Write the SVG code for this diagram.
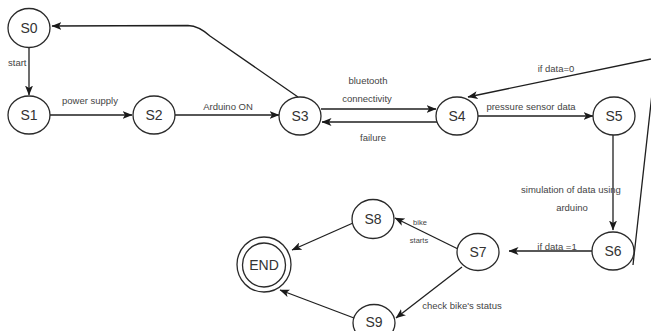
<svg xmlns="http://www.w3.org/2000/svg" width="651" height="331" viewBox="0 0 651 331">
<defs>
<marker id="arr" viewBox="0 0 10 8" refX="9.5" refY="4" markerWidth="10" markerHeight="8" markerUnits="userSpaceOnUse" orient="auto">
<path d="M0,0 L10,4 L0,8 L2.5,4 z" fill="#1a1a1a"/>
</marker>
</defs>
<style>
.node ellipse{fill:#fff;stroke:#2a2a2a;stroke-width:1.3}
.node text{font-family:"Liberation Sans",Arial,sans-serif;font-size:14px;fill:#333;text-anchor:middle}
.edge{fill:none;stroke:#1f1f1f;stroke-width:1.3;marker-end:url(#arr)}
.lbl{font-family:"Liberation Sans",Arial,sans-serif;font-size:9.5px;fill:#444;text-anchor:middle}
.sm{font-size:7.5px}
</style>
<rect width="651" height="331" fill="#fff"/>
<g id="connectors">
<path class="edge" d="M29,48 L29,95"/>
<path class="edge" d="M50,115 L132,115"/>
<path class="edge" d="M175,115 L279,115"/>
<path class="edge" d="M298,97 L210,36 Q199,26 188,25.5 L52,26"/>
<path class="edge" d="M321,109 L436,109"/>
<path class="edge" d="M437,122 L322,122"/>
<path class="edge" d="M478,116 L593,116"/>
<path class="edge" d="M613,135 L613,230"/>
<path class="edge" d="M633,265 L656,58 L468,97"/>
<path class="edge" d="M592,251 L509,251"/>
<path class="edge" d="M458,249 L395,218"/>
<path class="edge" d="M462,267 L396,318"/>
<path class="edge" d="M353,223 L292,250"/>
<path class="edge" d="M354,318 L280,290"/>
<text class="lbl" x="8" y="65.5" style="text-anchor:start">start</text>
<text class="lbl" x="90" y="104">power supply</text>
<text class="lbl" x="228" y="110">Arduino ON</text>
<text class="lbl" x="368" y="84">bluetooth</text>
<text class="lbl" x="367" y="102">connectivity</text>
<text class="lbl" x="373" y="141">failure</text>
<text class="lbl" x="531" y="110">pressure sensor data</text>
<text class="lbl" x="556" y="72">if data=0</text>
<text class="lbl" x="571" y="193">simulation of data using</text>
<text class="lbl" x="572" y="211">arduino</text>
<text class="lbl" x="557" y="250">if data =1</text>
<text class="lbl sm" x="420" y="225">bike</text>
<text class="lbl sm" x="419" y="243">starts</text>
<text class="lbl" x="462" y="309">check bike's status</text>
</g>
<g id="S0" class="node"><ellipse cx="29" cy="28" rx="21" ry="19.5"/><text x="29" y="33">S0</text></g>
<g id="S1" class="node"><ellipse cx="29" cy="115" rx="21" ry="19"/><text x="29" y="120">S1</text></g>
<g id="S2" class="node"><ellipse cx="154" cy="115" rx="21" ry="19"/><text x="154" y="120">S2</text></g>
<g id="S3" class="node"><ellipse cx="300" cy="116" rx="21" ry="19"/><text x="300" y="121">S3</text></g>
<g id="S4" class="node"><ellipse cx="457" cy="116" rx="21" ry="19"/><text x="457" y="121">S4</text></g>
<g id="S5" class="node"><ellipse cx="614" cy="116" rx="21" ry="19"/><text x="614" y="121">S5</text></g>
<g id="S6" class="node"><ellipse cx="613" cy="251" rx="21" ry="19"/><text x="613" y="256">S6</text></g>
<g id="S7" class="node"><ellipse cx="478" cy="252" rx="21" ry="18.5"/><text x="478" y="257">S7</text></g>
<g id="S8" class="node"><ellipse cx="373" cy="219" rx="21" ry="19.5"/><text x="373" y="224">S8</text></g>
<g id="S9" class="node"><ellipse cx="374" cy="323" rx="21" ry="18.5"/><text x="374" y="327">S9</text></g>
<g id="END" class="node"><ellipse cx="264" cy="264.5" rx="27" ry="27.5"/><ellipse cx="264" cy="265" rx="21.5" ry="22"/><text x="264" y="270">END</text></g>
</svg>
